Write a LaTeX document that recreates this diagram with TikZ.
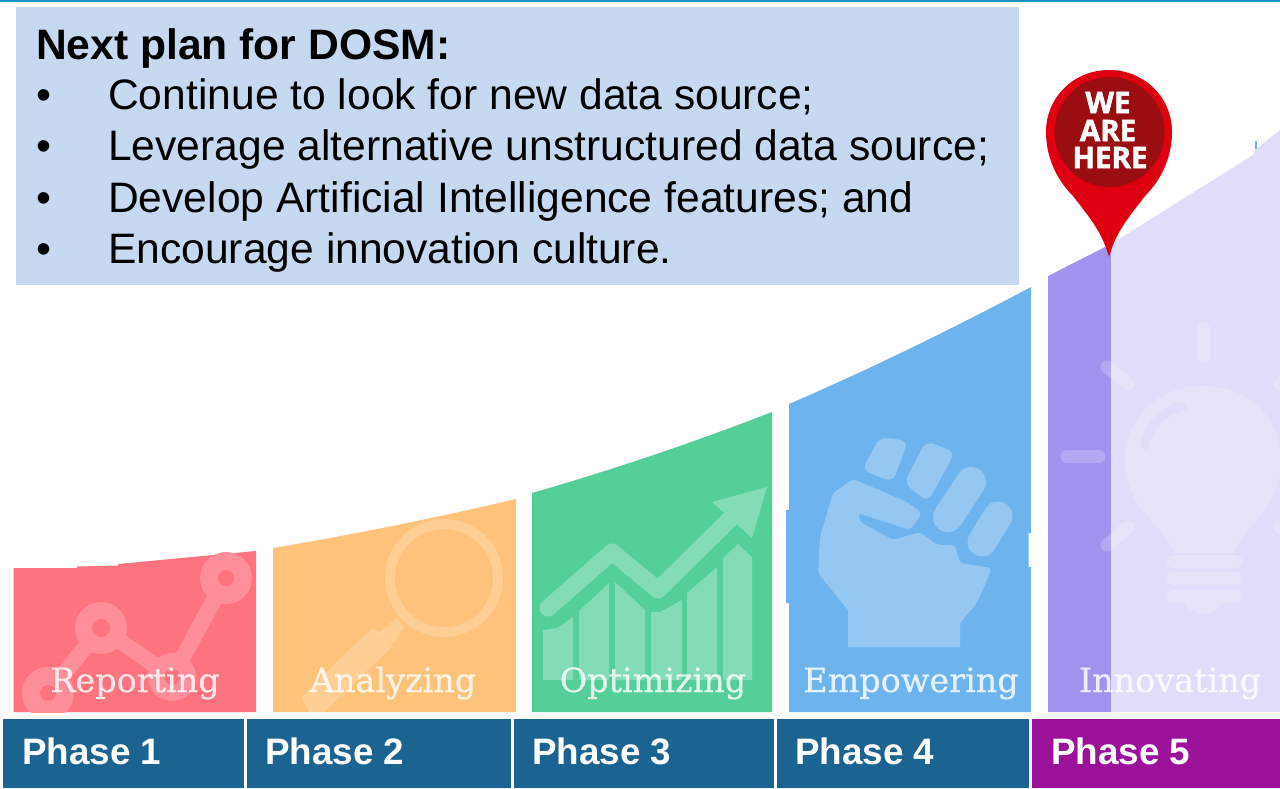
\documentclass[tikz,border=0pt]{standalone}
\usepackage{fontspec}
\setmainfont{Liberation Sans}
\newfontfamily\labelserif[FakeBold=0.5]{DejaVu Serif}
\newfontfamily\pinfont[BoldFeatures={FakeBold=1.8}]{Open Sans}
\definecolor{planbox}{HTML}{C6D9F1}
\definecolor{phaseblue}{HTML}{1B6491}
\definecolor{phasepurple}{HTML}{9C119A}
\definecolor{toprule}{HTML}{0A93BC}
\definecolor{redblock}{HTML}{FE7380}
\definecolor{orangeblock}{HTML}{FEC27B}
\definecolor{greenblock}{HTML}{55CF9A}
\definecolor{blueblock}{HTML}{6DB4EE}
\definecolor{purpleblock}{HTML}{A093EE}
\definecolor{lilacblock}{HTML}{E0DDFA}
\definecolor{pinred}{HTML}{DE0010}
\definecolor{pindark}{HTML}{9A0E12}
\colorlet{redicon}{redblock!80!white}
\colorlet{greenicon}{greenblock!73!white}
\colorlet{blueicon}{blueblock!73!white}
\tikzset{
  x=1pt,y=-1pt,
  phasebox/.style={draw=none,fill=phaseblue,minimum height=69pt,inner sep=0pt,anchor=north west},
  phasetext/.style={text=white,font=\fontsize{36.8}{37}\selectfont\bfseries,inner sep=0pt,anchor=base west},
  planline/.style={font=\fontsize{42.6}{43}\selectfont,inner sep=0pt,anchor=base west,text=black},
  blocklabel/.style={text=white,text opacity=.82,font=\labelserif\fontsize{33.4}{33}\selectfont,inner sep=0pt,anchor=base},
  icon/.style={fill=white,fill opacity=.2,draw=none},
  iconline/.style={draw=white,draw opacity=.2,line cap=round,line join=round,fill=none},
  solidline/.style={line cap=round,line join=round},
  pintext/.style={text=white,font=\pinfont\bfseries\fontsize{29.5}{30}\selectfont,inner sep=0pt,anchor=base}
}
\begin{document}
\begin{tikzpicture}
\useasboundingbox (0,0) rectangle (1280,788);
\fill[white] (0,0) rectangle (1280,788);
\fill[toprule] (0,0) rectangle (1280,1.5);
% blocks
\fill[redblock] (13.5,712) -- (13.5,568) -- (77,568) -- (77,566.5) -- (118,565.5) -- (118,564) -- (256,551) -- (256,712) -- cycle;
\fill[orangeblock] (273,712) -- (273,548) .. controls (354,534.5) and (435,518) .. (516,499) -- (516,712) -- cycle;
\fill[greenblock] (532,712) -- (532,493) .. controls (612,470) and (692,443) .. (772,412) -- (772,712) -- cycle;
\fill[blueblock] (789,712) -- (789,603) -- (786,603) -- (786,510) -- (789,510) -- (789,404) .. controls (870,369) and (950,330) .. (1031,287) -- (1031,533) -- (1028.5,533) -- (1028.5,567) -- (1031,567) -- (1031,712) -- cycle;
\fill[purpleblock] (1048,712) -- (1048,276) -- (1111,244) -- (1111,712) -- cycle;
\fill[lilacblock] (1111,712) -- (1111,244) -- (1253,155) -- (1255,150) -- (1280,130) -- (1280,712) -- cycle;
\fill[blueblock] (1255,141) rectangle (1257,149);
% icon 1: chart line
\begin{scope}
\clip (13.5,500) rectangle (256,712);
\draw[redicon,line width=16pt,solidline] (48,693) -- (101,628) -- (172,677) -- (226,578);
\fill[redicon] (48,693) circle (26) (101,628) circle (26) (172,677) circle (24) (226,578) circle (26);
\fill[redblock] (48,693) circle (8) (101,628) circle (9) (172,677) circle (8) (226,578) circle (8);
\end{scope}
% icon 2: magnifier
\fill[icon,even odd rule] (444,578) circle (59) (444,578) circle (49);
\fill[icon] (378,633) -- (397,618) -- (404,627) -- (394,643) -- cycle;
\begin{scope}
\clip (273,480) rectangle (516,712);
\fill[icon,rounded corners=3pt] (373,627) -- (394,645) -- (322,714) -- (310,714) -- (301,697) -- cycle;
\end{scope}
% icon 3: growth chart
\draw[greenicon,solidline,line width=17pt] (548,608) -- (612,552) -- (658,590) -- (732,517);
\fill[greenicon] (712,502) -- (767,487) -- (752,538) -- cycle;
\fill[greenicon] (543,630) -- (557,628) -- (573,617) -- (573,680) -- (543,680) -- cycle;
\fill[greenicon] (579,611) -- (609,583) -- (609,680) -- (579,680) -- cycle;
\fill[greenicon] (615,582) -- (645,610) -- (645,680) -- (615,680) -- cycle;
\fill[greenicon] (651,612) -- (660,612) -- (682,600) -- (682,680) -- (651,680) -- cycle;
\fill[greenicon] (687,593) -- (717,567) -- (717,680) -- (687,680) -- cycle;
\fill[greenicon] (723,558) -- (738,544) -- (752,557) -- (752,680) -- (723,680) -- cycle;
% icon 4: fist
\fill[blueicon,rounded corners=8pt] (862,470) -- (880,437) -- (908,441) -- (893,482) -- cycle;
\fill[blueicon,rounded corners=8pt] (904,483) -- (926,441) -- (955,452) -- (928,502) -- cycle;
\draw[blueicon,solidline,line width=30pt] (948,517) -- (971,482);
\draw[blueicon,solidline,line width=29pt] (982,542) -- (998,516);
\fill[blueicon,rounded corners=4pt] (853,479) -- (907,502) -- (922,513) -- (910,530) -- (858,513) -- (860,522) -- (893,540) -- (920,532) -- (937,545) -- (955,545) -- (960,563) -- (992,568) -- (977,603) -- (960,623) [sharp corners] -- (960,647) -- (848,647) -- (848,610) [rounded corners=4pt] -- (818,573) -- (820,537) -- (833,493) -- cycle;
% icon 5: light bulb
\begin{scope}
\clip (1048,240) rectangle (1280,712);
\draw[iconline,line width=13pt] (1203,329) -- (1203,357);
\draw[iconline,line width=13pt] (1107,367) -- (1128,384);
\draw[iconline,line width=13pt] (1067,456) -- (1099,456);
\draw[iconline,line width=13pt] (1107,545) -- (1128,527);
\draw[iconline,line width=13pt] (1280,384) -- (1299,367);
\draw[iconline,line width=13pt] (1280,526) -- (1299,545);
\fill[icon] (1173,553) .. controls (1170,530) and (1125,510) .. (1125,462) .. controls (1125,415) and (1160,386) .. (1203,386) .. controls (1246,386) and (1281,415) .. (1281,462) .. controls (1281,510) and (1238,530) .. (1235,553) -- cycle;
\fill[icon,rounded corners=6pt] (1167,555) rectangle (1242,568);
\fill[icon,rounded corners=6pt] (1167,572) rectangle (1242,585);
\fill[icon,rounded corners=6pt] (1167,590) rectangle (1242,603);
\fill[icon] (1184,603) .. controls (1192,617) and (1214,617) .. (1222,603) -- cycle;
\draw[line cap=round,line width=9pt,lilacblock] (1145,445) .. controls (1148,425) and (1165,410) .. (1183,406);
\end{scope}
% block labels
\node[blocklabel] (lab1) at (135,692) {Reporting};
\node[blocklabel] (lab2) at (393,692) {Analyzing};
\node[blocklabel] (lab3) at (653,692) {Optimizing};
\node[blocklabel] (lab4) at (911,692) {Empowering};
\node[blocklabel] (lab5) at (1170,692) {Innovating};
% phase bar
\node[phasebox,minimum width=241pt] (p1) at (3,719) {};
\node[phasebox,minimum width=264pt] (p2) at (247,719) {};
\node[phasebox,minimum width=260pt] (p3) at (514,719) {};
\node[phasebox,minimum width=252pt] (p4) at (777,719) {};
\node[phasebox,fill=phasepurple,minimum width=248pt] (p5) at (1032,719) {};
\node[phasetext] (t1) at (22,764) {Phase 1};
\node[phasetext] (t2) at (265,764) {Phase 2};
\node[phasetext] (t3) at (532,764) {Phase 3};
\node[phasetext] (t4) at (795,764) {Phase 4};
\node[phasetext] (t5) at (1051,764) {Phase 5};
% plan box
\fill[planbox] (16,7) rectangle (1019,285);
\node[planline,font=\fontsize{42.6}{43}\selectfont\bfseries] (head) at (36,59) {Next plan for DOSM:};
\node[planline] (b1) at (36,109) {•};
\node[planline] (l1) at (108,109) {Continue to look for new data source;};
\node[planline] (b2) at (36,160) {•};
\node[planline] (l2) at (108,160) {Leverage alternative unstructured data source;};
\node[planline] (b3) at (36,212) {•};
\node[planline] (l3) at (108,212) {Develop Artificial Intelligence features; and};
\node[planline] (b4) at (36,263) {•};
\node[planline] (l4) at (108,263) {Encourage innovation culture.};
% pin
\fill[pinred] (1109,257) .. controls (1102,232) and (1090,218) .. (1073,196) .. controls (1055,178) and (1046,155) .. (1046,132) .. controls (1046,97) and (1074,70) .. (1109,70) .. controls (1144,70) and (1172,97) .. (1172,132) .. controls (1172,155) and (1163,178) .. (1145,196) .. controls (1128,218) and (1116,232) .. (1109,257) -- cycle;
\fill[pindark] (1109.5,132) circle (55);
\node[pintext] (we) at (1108,113) {WE};
\node[pintext] (are) at (1108,141) {ARE};
\node[pintext] (here) at (1110,168) {HERE};
\end{tikzpicture}
\end{document}
